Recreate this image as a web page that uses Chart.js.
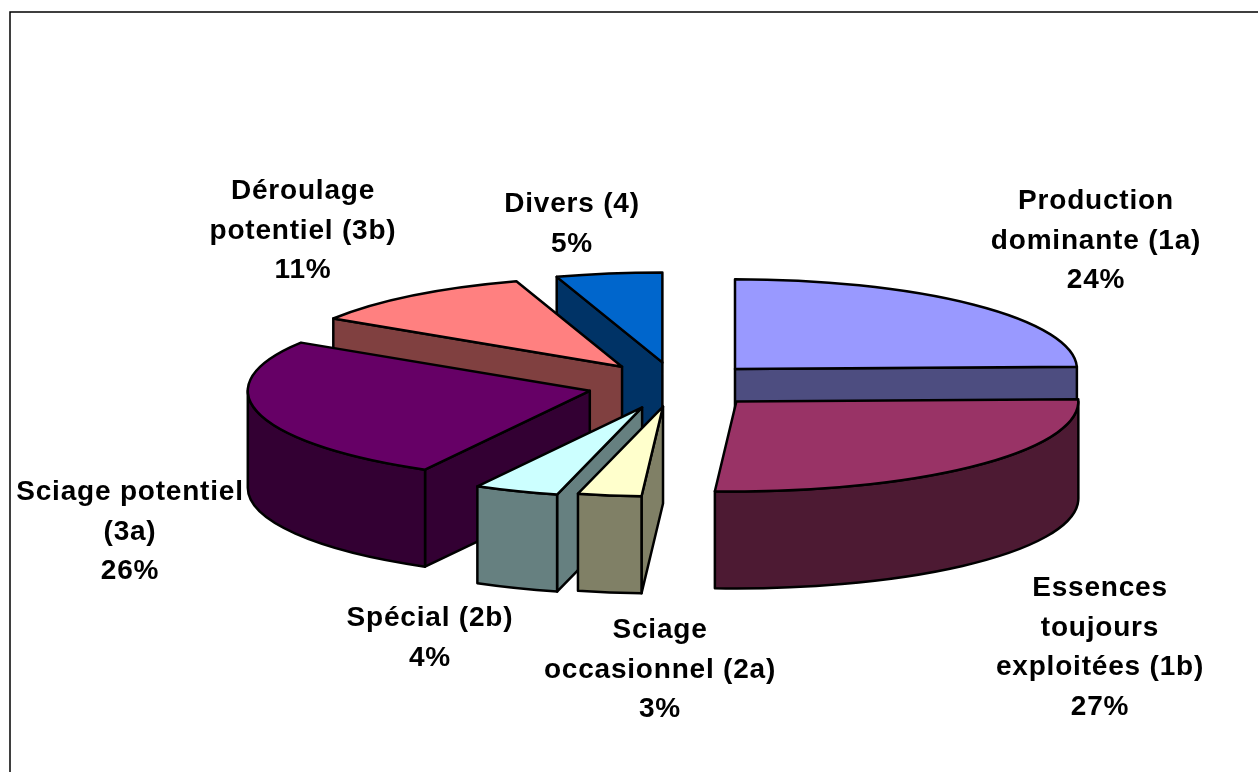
<!DOCTYPE html>
<html>
<head>
<meta charset="utf-8">
<title>Répartition des essences</title>
<script src="https://cdn.jsdelivr.net/npm/chart.js@4"></script>
<style>
  html, body { margin: 0; padding: 0; background: #fff; overflow: hidden; }
  canvas { display: block; }
</style>
</head>
<body>
<canvas id="myChart" width="1258" height="772"></canvas>
<script>
// values, clockwise from the top
const categories = [
  "Production dominante (1a)",
  "Essences toujours exploitées (1b)",
  "Sciage occasionnel (2a)",
  "Spécial (2b)",
  "Sciage potentiel (3a)",
  "Déroulage potentiel (3b)",
  "Divers (4)",
];
const valeurs = [24.6, 26.4, 3, 4, 26, 11, 5];
const couleursDessus = ["#9999ff", "#993366", "#ffffcc", "#ccffff", "#660066", "#ff8080", "#0066cc"];
const couleursCote = ["#4d4d80", "#4d1a33", "#808066", "#668080", "#330033", "#804040", "#003366"];

const lignesEtiquettes = [
  ["Production", "dominante (1a)", "24%"],
  ["Essences", "toujours", "exploitées (1b)", "27%"],
  ["Sciage", "occasionnel (2a)", "3%"],
  ["Spécial (2b)", "4%"],
  ["Sciage potentiel", "(3a)", "26%"],
  ["Déroulage", "potentiel (3b)", "11%"],
  ["Divers (4)", "5%"],
];
// centre x and first baseline of every label
const etiquetteX = [1096, 1100, 660, 430, 130, 303, 572];
const etiquetteY = [209, 596, 638, 626, 500, 199, 212];

const ecrasement = 0.263; // flattening of the disc
const epaisseur = 97;
const eclatements = [84.5, 87, 83, 92, 89, 88, 87];

function sommet(arc, i) {
  const milieu = (arc.startAngle + arc.endAngle) / 2;
  return {
    x: arc.x + Math.cos(milieu) * eclatements[i],
    y: arc.y + Math.sin(milieu) * eclatements[i] * ecrasement,
  };
}

function dessinerCotes(ctx, arc, p, couleur) {
  const r = arc.outerRadius;
  const ry = r * ecrasement;
  ctx.fillStyle = couleur;

  // flat cut faces, only the ones turned to the viewer
  [arc.startAngle, arc.endAngle].forEach((a, i) => {
    const visible = i === 0 ? Math.cos(a) < -0.001 : Math.cos(a) > 0.001;
    if (!visible) return;
    const bx = p.x + Math.cos(a) * r;
    const by = p.y + Math.sin(a) * ry;
    ctx.beginPath();
    ctx.moveTo(p.x, p.y);
    ctx.lineTo(bx, by);
    ctx.lineTo(bx, by + epaisseur);
    ctx.lineTo(p.x, p.y + epaisseur);
    ctx.closePath();
    ctx.fill();
    ctx.stroke();
  });

  // round wall, front half of the ellipse only
  const a0 = Math.max(arc.startAngle, 0);
  const a1 = Math.min(arc.endAngle, Math.PI);
  if (a1 > a0) {
    ctx.beginPath();
    ctx.ellipse(p.x, p.y, r, ry, 0, a0, a1);
    ctx.ellipse(p.x, p.y + epaisseur, r, ry, 0, a1, a0, true);
    ctx.closePath();
    ctx.fill();
    ctx.stroke();
  }
}

function dessinerDessus(ctx, arc, p) {
  // the library draws the slice, we only flatten the context
  ctx.save();
  ctx.translate(p.x, p.y);
  ctx.scale(1, ecrasement);
  ctx.translate(-arc.x, -arc.y);
  arc.draw(ctx);
  ctx.restore();

  ctx.beginPath();
  ctx.moveTo(p.x, p.y);
  ctx.ellipse(p.x, p.y, arc.outerRadius, arc.outerRadius * ecrasement, 0, arc.startAngle, arc.endAngle);
  ctx.closePath();
  ctx.stroke();
}

const camembert3d = {
  id: "camembert3d",
  beforeDraw(chart) {
    const ctx = chart.ctx;
    ctx.save();
    ctx.fillStyle = "#fff";
    ctx.fillRect(0, 0, chart.width, chart.height);
    ctx.strokeStyle = "#000";
    ctx.lineWidth = 1.5;
    ctx.strokeRect(10, 12, chart.width + 20, chart.height + 20);
    ctx.restore();
  },
  beforeDatasetDraw(chart, args) {
    const ctx = chart.ctx;
    const arcs = args.meta.data.map((arc, i) => ({ arc, i }));
    // paint from the back of the disc to the front
    arcs.sort((a, b) => Math.sin((a.arc.startAngle + a.arc.endAngle) / 2) - Math.sin((b.arc.startAngle + b.arc.endAngle) / 2));
    ctx.save();
    ctx.strokeStyle = "#000";
    ctx.lineWidth = 2.5;
    ctx.lineJoin = "round";
    arcs.forEach(({ arc, i }) => {
      const p = sommet(arc, i);
      dessinerCotes(ctx, arc, p, couleursCote[i]);
      dessinerDessus(ctx, arc, p);
    });
    ctx.restore();
    return false;
  },
  afterDatasetsDraw(chart) {
    const ctx = chart.ctx;
    ctx.save();
    ctx.fillStyle = "#000";
    ctx.font = "bold 28px 'Liberation Sans', Arial, sans-serif";
    ctx.letterSpacing = "0.8px";
    ctx.textAlign = "center";
    lignesEtiquettes.forEach((lignes, i) => {
      lignes.forEach((ligne, j) => {
        ctx.fillText(ligne, etiquetteX[i], etiquetteY[i] + j * 39.5);
      });
    });
    ctx.restore();
  },
};

new Chart(document.getElementById("myChart").getContext("2d"), {
  type: "pie",
  data: {
    labels: categories,
    datasets: [{ data: valeurs, backgroundColor: couleursDessus, borderWidth: 0 }],
  },
  options: {
    responsive: false,
    animation: false,
    radius: 342,
    layout: { padding: { left: 94, bottom: 2 } },
    plugins: { legend: { display: false }, tooltip: { enabled: false } },
  },
  plugins: [camembert3d],
});
</script>
</body>
</html>
